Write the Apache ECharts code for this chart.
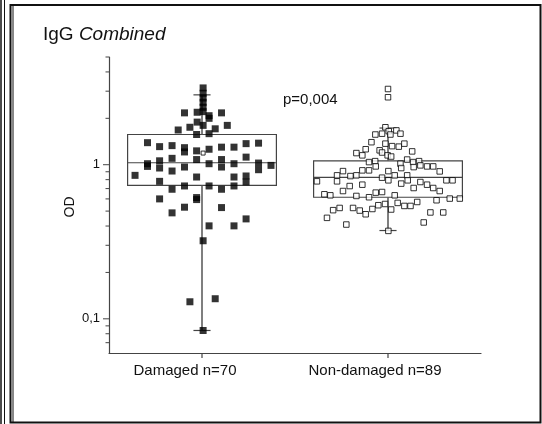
<!DOCTYPE html>
<html>
<head>
<meta charset="utf-8">
<script src="https://cdn.jsdelivr.net/npm/echarts@6/dist/echarts.min.js"></script>
<style>
html,body{margin:0;padding:0;background:#fff;}
#chart{width:542px;height:424px;}
</style>
</head>
<body>
<div id="chart"></div>
<script>
// ---- data ----
const categories = ['Damaged n=70', 'Non-damaged n=89'];

// horizontal jitter position (0..2, category centres at 0.5 and 1.5) and OD value
const damagedX = [0.506,0.506,0.506,0.506,0.506,0.506,0.406,0.474,0.605,0.538,0.538,0.474,0.435,0.506,0.636,0.372,0.571,0.471,0.538,
  0.207,0.272,0.339,0.406,0.406,0.471,0.538,0.605,0.672,0.737,0.804,
  0.339,0.471,0.605,0.737,0.272,0.207,0.207,0.272,0.339,0.406,0.538,0.605,0.672,0.804,0.804,0.871,0.140,0.272,0.471,0.672,0.737,0.737,
  0.406,0.339,0.538,0.605,0.672,
  0.272,0.471,0.471,0.406,0.605,0.339,0.737,0.538,0.672,0.506,0.435,0.571,0.506];
const damagedOD = [3.15,2.91,2.71,2.54,2.36,2.21,2.17,2.19,2.17,2.08,2.00,1.89,1.75,1.80,1.80,1.68,1.71,1.57,1.59,
  1.39,1.31,1.33,1.29,1.21,1.23,1.26,1.30,1.30,1.37,1.38,
  1.10,1.08,1.08,1.12,1.06,1.015,0.975,0.952,0.91,0.966,1.015,0.966,1.015,1.025,0.928,0.99,0.853,0.78,0.832,0.832,0.845,0.773,
  0.728,0.693,0.728,0.693,0.728,
  0.60,0.612,0.594,0.53,0.527,0.487,0.445,0.401,0.401,0.321,0.129,0.135,0.084];

const nonDamagedX = [1.500,1.500,1.486,1.504,1.545,1.432,1.468,1.513,1.567,1.411,1.486,1.522,1.558,1.588,1.330,1.362,1.380,1.455,1.468,1.630,1.498,1.517,1.398,1.431,1.603,1.635,1.667,1.567,
  1.258,1.226,1.298,1.330,1.362,1.398,1.434,1.502,1.571,1.603,1.638,1.674,1.710,1.743,1.778,1.468,1.536,1.118,1.226,1.502,1.606,1.571,1.674,1.710,1.743,1.778,1.814,1.847,1.638,1.294,1.258,1.362,1.158,1.190,1.330,1.398,1.434,1.468,1.536,1.886,1.832,1.761,1.205,1.240,1.172,1.312,1.348,1.380,1.416,1.448,1.484,1.517,1.552,1.588,1.621,1.657,1.728,1.797,1.276,1.692,1.502];
const nonDamagedOD = [3.10,2.74,1.75,1.65,1.67,1.57,1.59,1.57,1.59,1.40,1.37,1.32,1.31,1.37,1.19,1.15,1.26,1.24,1.20,1.22,1.15,1.13,1.04,1.055,1.08,1.04,1.055,1.015,
  0.909,0.853,0.844,0.853,0.919,0.919,0.975,0.909,0.951,0.853,0.965,0.99,0.975,0.975,0.905,0.824,0.853,0.78,0.78,0.792,0.792,0.754,0.772,0.742,0.706,0.675,0.792,0.792,0.706,0.727,0.675,0.742,0.643,0.633,0.627,0.615,0.659,0.665,0.633,0.603,0.603,0.588,0.507,0.524,0.452,0.524,0.504,0.477,0.516,0.546,0.556,0.512,0.565,0.54,0.54,0.573,0.49,0.49,0.409,0.422,0.372];

// box statistics per group
const boxCenter = [0.5, 1.5];
const boxMin    = [0.084, 0.374];
const boxQ1     = [0.735, 0.615];
const boxMedian = [1.03, 0.828];
const boxQ3     = [1.57, 1.06];
const boxMax    = [2.84, 1.73];
const damagedMean = 1.19;

// y axis ticks
const majorTicks = [0.1, 1];
const minorTicks = [0.07,0.08,0.09,0.2,0.3,0.4,0.5,0.6,0.7,0.8,0.9,2,3,4,5];
const tickLabels = {'0.1': '0,1', '1': '1'};

const pText = 'p=0,004';

// ---- chart ----
const FONT = 'Liberation Sans, Arial, sans-serif';
const Y_MIN = 0.06, Y_MAX = 5;
const chart = echarts.init(document.getElementById('chart'), null, {renderer: 'canvas'});

const boxData = boxCenter.map((c, i) => [c, boxMin[i], boxQ1[i], boxMedian[i], boxQ3[i], boxMax[i]]);
const tickData = majorTicks.map(v => [0, v, 1]).concat(minorTicks.map(v => [0, v, 0]));
const xTickData = boxCenter.map(c => [c, Y_MIN]);

function renderBox(params, api) {
  const c = api.value(0), mn = api.value(1), q1 = api.value(2), md = api.value(3), q3 = api.value(4), mx = api.value(5);
  const hw = 0.4, cap = 0.046;
  const tl = api.coord([c - hw, q3]), br = api.coord([c + hw, q1]);
  const mL = api.coord([c - hw, md]), mR = api.coord([c + hw, md]);
  const q3c = api.coord([c, q3]), q1c = api.coord([c, q1]);
  const top = api.coord([c, mx]), bot = api.coord([c, mn]);
  const ct1 = api.coord([c - cap, mx]), ct2 = api.coord([c + cap, mx]);
  const cb1 = api.coord([c - cap, mn]), cb2 = api.coord([c + cap, mn]);
  const ls = {stroke: '#444', lineWidth: 1.2, fill: null};
  const wl = {stroke: '#555', lineWidth: 1.5, fill: null};
  return {type: 'group', children: [
    {type: 'rect', shape: {x: tl[0], y: tl[1], width: br[0] - tl[0], height: br[1] - tl[1]}, style: {fill: 'none', stroke: '#444', lineWidth: 1.2}},
    {type: 'line', shape: {x1: mL[0], y1: mL[1], x2: mR[0], y2: mR[1]}, style: ls},
    {type: 'line', shape: {x1: q3c[0], y1: q3c[1], x2: top[0], y2: top[1]}, style: wl},
    {type: 'line', shape: {x1: q1c[0], y1: q1c[1], x2: bot[0], y2: bot[1]}, style: wl},
    {type: 'line', shape: {x1: ct1[0], y1: ct1[1], x2: ct2[0], y2: ct2[1]}, style: ls},
    {type: 'line', shape: {x1: cb1[0], y1: cb1[1], x2: cb2[0], y2: cb2[1]}, style: ls}
  ]};
}

function renderYTick(params, api) {
  const p = api.coord([0, api.value(1)]);
  const len = api.value(2) ? 6 : 3.5;
  return {type: 'line', shape: {x1: p[0] - len, y1: p[1], x2: p[0], y2: p[1]}, style: {stroke: '#444', lineWidth: 1}};
}

function renderXTick(params, api) {
  const p = api.coord([api.value(0), api.value(1)]);
  return {type: 'line', shape: {x1: p[0], y1: p[1], x2: p[0], y2: p[1] + 5}, style: {stroke: '#444', lineWidth: 1.2}};
}

const option = {
  backgroundColor: '#fff',
  animation: false,
  textStyle: {fontFamily: FONT},
  title: {
    text: 'IgG {i|Combined}',
    left: 38, top: 20,
    textStyle: {fontFamily: FONT, fontSize: 19, fontWeight: 'normal', color: '#111',
      rich: {i: {fontFamily: FONT, fontSize: 19, fontStyle: 'italic', color: '#111'}}}
  },
  grid: {left: 109, top: 57, width: 372, height: 296, containLabel: false},
  xAxis: [
    {type: 'category', data: categories, boundaryGap: true,
      axisLine: {lineStyle: {color: '#444', width: 1.2}},
      axisTick: {show: false},
      axisLabel: {interval: 0, hideOverlap: false, margin: 10, fontSize: 15, color: '#111', fontFamily: FONT,
        formatter: (v, i) => (i === 0 ? '{a|' : '{b|') + v + '}',
        rich: {
          a: {fontSize: 15, fontFamily: FONT, color: '#111', padding: [0, 34, 0, 0]},
          b: {fontSize: 15, fontFamily: FONT, color: '#111', padding: [0, 26, 0, 0]}
        }},
      splitLine: {show: false}},
    {type: 'value', min: 0, max: 2, show: false, splitLine: {show: false}}
  ],
  yAxis: {
    type: 'log', logBase: 10, min: Y_MIN, max: Y_MAX,
    axisLine: {show: true, lineStyle: {color: '#444', width: 1.2}},
    axisTick: {show: false},
    splitLine: {show: false},
    axisLabel: {margin: 9, fontSize: 13, color: '#111', fontFamily: FONT,
      formatter: v => {
        for (const k in tickLabels) { if (Math.abs(v - Number(k)) < 1e-9) return tickLabels[k]; }
        return '';
      }}
  },
  graphic: [
    {type: 'text', left: 283, top: 92, style: {text: pText, font: '15px ' + FONT, fill: '#111'}},
    {type: 'text', x: 70, y: 207, rotation: Math.PI / 2,
      style: {text: 'OD', font: '14px ' + FONT, fill: '#111', align: 'center', verticalAlign: 'middle'}},
    {type: 'rect', shape: {x: 10.5, y: 5, width: 530, height: 417.5}, style: {fill: 'none', stroke: '#111', lineWidth: 2}},
    {type: 'line', shape: {x1: 13, y1: 5, x2: 13, y2: 422.5}, style: {stroke: '#111', lineWidth: 1}},
    {type: 'line', shape: {x1: 1, y1: 0, x2: 1, y2: 424}, style: {stroke: '#111', lineWidth: 1.5}},
    {type: 'line', shape: {x1: 4.5, y1: 0, x2: 4.5, y2: 424}, style: {stroke: '#111', lineWidth: 1}}
  ],
  series: [
    {type: 'custom', name: 'yticks', xAxisIndex: 1, yAxisIndex: 0, clip: false, data: tickData, renderItem: renderYTick, silent: true, z: 1},
    {type: 'custom', name: 'xticks', xAxisIndex: 1, yAxisIndex: 0, clip: false, data: xTickData, renderItem: renderXTick, silent: true, z: 1},
    {type: 'custom', name: 'box', xAxisIndex: 1, yAxisIndex: 0, clip: false, data: boxData, renderItem: renderBox, silent: true, z: 2},
    {type: 'scatter', name: 'Damaged', xAxisIndex: 1, yAxisIndex: 0, symbol: 'rect', symbolSize: 7,
      itemStyle: {color: '#000'}, z: 3,
      data: damagedX.map((x, i) => [x, damagedOD[i]])},
    {type: 'scatter', name: 'Damaged mean', xAxisIndex: 1, yAxisIndex: 0, symbol: 'rect', symbolSize: 4,
      itemStyle: {color: '#fff', borderColor: '#000', borderWidth: 1}, z: 4,
      data: [[0.506, damagedMean]]},
    {type: 'scatter', name: 'Non-damaged', xAxisIndex: 1, yAxisIndex: 0, symbol: 'rect', symbolSize: 5.5,
      itemStyle: {color: '#fff', borderColor: '#000', borderWidth: 1}, z: 3,
      data: nonDamagedX.map((x, i) => [x, nonDamagedOD[i]])}
  ]
};
chart.setOption(option);
</script>
</body>
</html>
